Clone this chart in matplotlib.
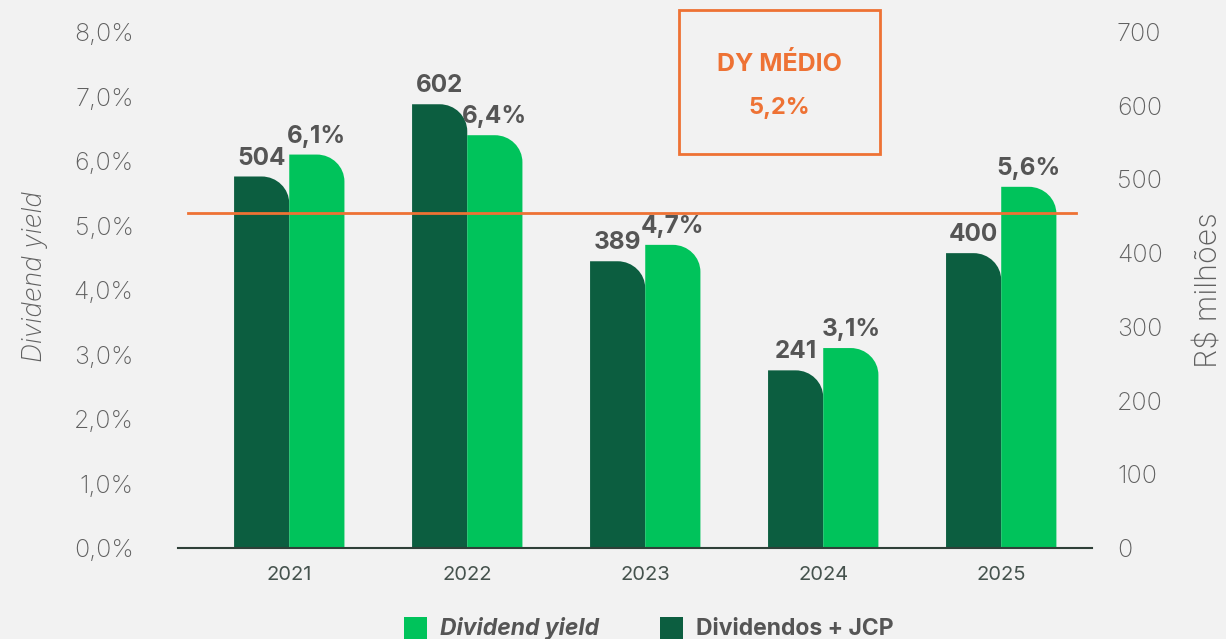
import matplotlib
matplotlib.use("Agg")
import matplotlib.pyplot as plt
from matplotlib.path import Path
from matplotlib.patches import PathPatch, Rectangle
from matplotlib.ticker import FuncFormatter, MultipleLocator

plt.rcParams['font.family'] = ['Inter', 'DejaVu Sans']

anos = ['2021', '2022', '2023', '2024', '2025']
dividendos = [504, 602, 389, 241, 400]          # R$ milhões
dy = [6.1, 6.4, 4.7, 3.1, 5.6]                  # %
dy_medio = 5.2

bg = '#f2f2f2'
verde_escuro = '#0c5e40'
verde_claro = '#00c35b'
laranja = '#ee7234'
cinza = '#606060'
cinza_txt = '#555555'

largura = 0.31


def barra_arredondada(ax, x0, w, h, rx, ry, cor):
    # retângulo com o canto superior direito arredondado
    k = 0.5523
    ry = min(ry, h)
    verts = [(x0, 0), (x0, h), (x0 + w - rx, h),
             (x0 + w - rx + k * rx, h), (x0 + w, h - ry + k * ry), (x0 + w, h - ry),
             (x0 + w, 0), (x0, 0)]
    codes = [Path.MOVETO, Path.LINETO, Path.LINETO,
             Path.CURVE4, Path.CURVE4, Path.CURVE4,
             Path.LINETO, Path.CLOSEPOLY]
    ax.add_patch(PathPatch(Path(verts, codes), facecolor=cor, edgecolor='none', zorder=2))


fig = plt.figure(figsize=(12.26, 6.39), dpi=100, facecolor=bg)
ax = fig.add_axes([0.1452, 0.1424, 0.7455, 0.8075])
ax2 = ax.twinx()
ax.set_zorder(ax2.get_zorder() + 1)
ax.patch.set_visible(False)
ax2.set_facecolor(bg)

ax.set_xlim(-0.625, 4.51)
ax.set_ylim(0, 8)
ax2.set_ylim(0, 700)

raio_px = 27

for i, (d, y) in enumerate(zip(dividendos, dy)):
    barra_arredondada(ax2, i - largura, largura, d, 0.5 * largura,
                      raio_px * 700 / 516, verde_escuro)
    barra_arredondada(ax, i, largura, y, 0.5 * largura,
                      raio_px * 8 / 516, verde_claro)
    ax2.annotate(str(d), (i - largura / 2, d), xytext=(0, 5), textcoords='offset points',
                 ha='center', va='bottom', fontsize=17.5, fontweight='bold', color=cinza_txt)
    ax.annotate(f'{y:.1f}%'.replace('.', ','), (i + largura / 2, y), xytext=(0, 5),
                textcoords='offset points', ha='center', va='bottom', fontsize=17.5,
                fontweight='bold', color=cinza_txt)

ax.plot([-0.57, 4.42], [dy_medio, dy_medio], color=laranja, lw=2, zorder=3)

# caixa do DY médio
fig.patches.append(Rectangle((679 / 1226, 1 - 154 / 639), 201 / 1226, 144 / 639,
                             transform=fig.transFigure, facecolor='none',
                             edgecolor=laranja, lw=2))
fig.text(779 / 1226, 1 - 64 / 639, 'DY MÉDIO', ha='center', va='center',
         fontsize=18, fontweight='bold', color=laranja)
fig.text(779 / 1226, 1 - 108 / 639, f'{dy_medio:.1f}%'.replace('.', ','), ha='center',
         va='center', fontsize=17, fontweight='bold', color=laranja)

ax.yaxis.set_major_locator(MultipleLocator(1))
ax.yaxis.set_major_formatter(FuncFormatter(lambda v, p: f'{v:.1f}%'.replace('.', ',')))
ax2.yaxis.set_major_locator(MultipleLocator(100))

ax.set_xticks(range(len(anos)))
ax.set_xticklabels(anos)

for a in (ax, ax2):
    for s in a.spines.values():
        s.set_visible(False)
    a.tick_params(length=0)
ax.spines['bottom'].set_visible(True)
ax.spines['bottom'].set_color('#2f4038')
ax.spines['bottom'].set_linewidth(1.5)

ax.tick_params(axis='y', labelsize=18, labelcolor=cinza, pad=32)
ax2.tick_params(axis='y', labelsize=18, labelcolor=cinza, pad=18)
ax.tick_params(axis='x', labelsize=14.5, labelcolor='#45524d', pad=13)
for t in ax.get_yticklabels() + ax2.get_yticklabels():
    t.set_fontweight('light')

fig.text(35 / 1226, 1 - 277 / 639, 'Dividend yield', rotation=90, ha='center', va='center',
         fontsize=19, style='italic', fontweight='light', color=cinza)
fig.text(1210 / 1226, 1 - 290 / 639, 'R$ milhões', rotation=90, ha='center', va='center',
         fontsize=22, fontweight='light', color=cinza)

# legenda
for x0, cor, txt, estilo in [(404, verde_claro, 'Dividend yield', 'italic'),
                             (660, verde_escuro, 'Dividendos + JCP', 'normal')]:
    fig.patches.append(Rectangle((x0 / 1226, 0), 23 / 1226, 22 / 639,
                                 transform=fig.transFigure, facecolor=cor, edgecolor='none'))
    fig.text((x0 + 36) / 1226, 1 - 629 / 639, txt, ha='left', va='center', fontsize=16.5,
             fontweight='bold', style=estilo, color=cinza_txt)

fig.savefig('out.png', dpi=100, facecolor=bg)
